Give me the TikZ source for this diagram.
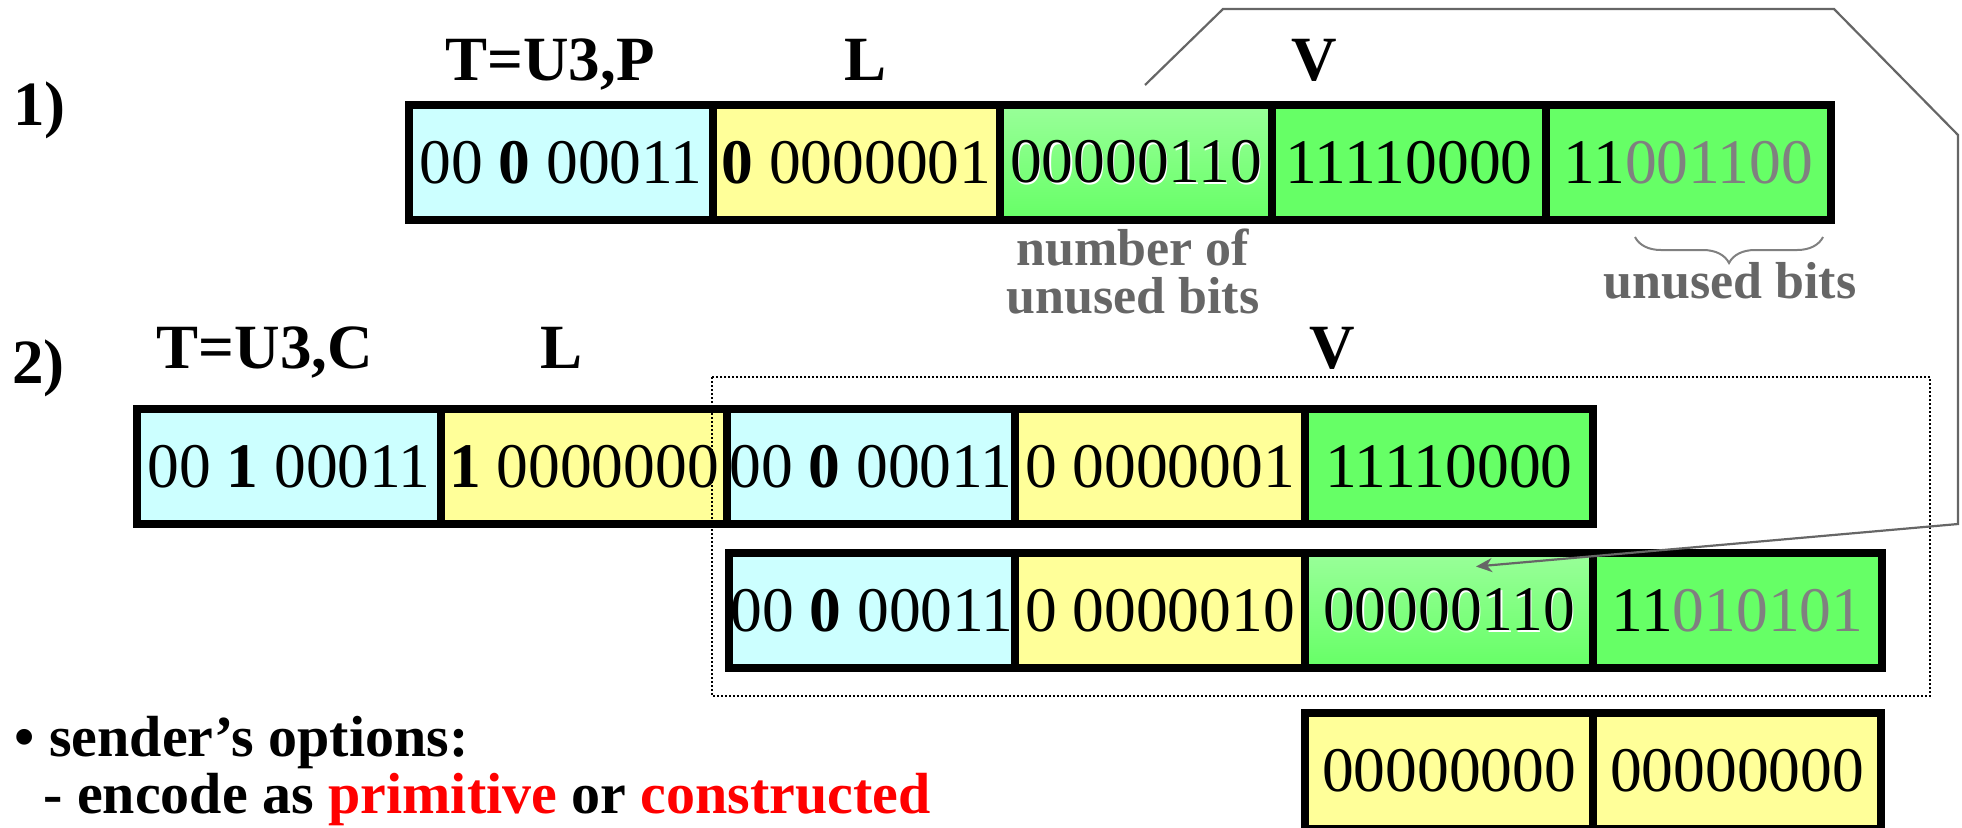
\documentclass[tikz,border=0pt]{standalone}
\usepackage{fontspec}
\setmainfont{Liberation Serif}
\usetikzlibrary{calc,arrows.meta,decorations.pathreplacing}
\definecolor{cyanF}{HTML}{CCFFFF}
\definecolor{yellowF}{HTML}{FFFF99}
\definecolor{greenF}{HTML}{66FF66}
\definecolor{lgreenF}{HTML}{99FF99}
\definecolor{dgray}{HTML}{808080}
\definecolor{lgray}{HTML}{666666}
\definecolor{redT}{HTML}{FF0000}
\tikzset{
  bitcell/.style={draw=black, line width=4pt, rectangle, inner sep=0pt,
    font=\fontsize{31.75}{36}\selectfont},
  lbl/.style={inner sep=0pt, anchor=base, font=\fontsize{31.5}{36}\selectfont\bfseries},
  glbl/.style={inner sep=0pt, text=lgray, align=center, font=\fontsize{26}{24}\selectfont\bfseries},
  btxt/.style={inner sep=0pt, anchor=base west, font=\fontsize{29}{28.5}\selectfont\bfseries},
  gline/.style={draw=lgray, line width=1.1pt, line join=miter},
  dotbox/.style={draw=black, line width=0.9pt, dash pattern=on 1pt off 1pt},
  gradcell/.style={top color=lgreenF, bottom color=greenF, middle color=greenF!50!lgreenF}
}
\newcommand\bitbox[7]{%
  \node[bitcell, #6, minimum width={(#3-#2)*0.5pt}, minimum height={(#5-#4)*0.5pt}]
    (#1) at ({(#2+#3)/2},{(#4+#5)/2}) {#7};}
\newcommand\glowtext[1]{\leavevmode\rlap{\kern0.6pt\raisebox{-1.1pt}{\textcolor{white}{#1}}}#1}
\begin{document}
\begin{tikzpicture}[x=0.5pt,y=-0.5pt]
\useasboundingbox (0,0) rectangle (1962,827);
% labels
\node[lbl, anchor=base west] (n1) at (13,125) {1)};
\node[lbl] (t1) at (550,80) {T=U3,P};
\node[lbl] (l1) at (865,80) {L};
\node[lbl] (v1) at (1314,80) {V};
\node[lbl, anchor=base west] (n2) at (12,383) {2)};
\node[lbl] (t2) at (265,368) {T=U3,C};
\node[lbl] (l2) at (561,368) {L};
\node[lbl] (v2) at (1332,368) {V};
% row 1
\bitbox{r1a}{409}{713}{105}{220}{fill=cyanF}{00 \textbf{0} 00011}
\bitbox{r1b}{713}{1000}{105}{220}{fill=yellowF}{\textbf{0} 0000001}
\bitbox{r1c}{1000}{1272}{105}{220}{gradcell}{\glowtext{00000110}}
\bitbox{r1d}{1272}{1546}{105}{220}{fill=greenF}{11110000}
\bitbox{r1e}{1546}{1831}{105}{220}{fill=greenF}{11\textcolor{dgray}{001100}}
% row 2 upper
\bitbox{r2a}{137}{441}{409}{524}{fill=cyanF}{00 \textbf{1} 00011}
\bitbox{r2b}{441}{727}{409}{524}{fill=yellowF}{\textbf{1} 0000000}
\bitbox{r2c}{727}{1015}{409}{524}{fill=cyanF}{00 \textbf{0} 00011}
\bitbox{r2d}{1015}{1305}{409}{524}{fill=yellowF}{0 0000001}
\bitbox{r2e}{1305}{1593}{409}{524}{fill=greenF}{11110000}
% row 2 lower
\bitbox{r2la}{729}{1015}{553}{668}{fill=cyanF}{00 \textbf{0} 00011}
\bitbox{r2lb}{1015}{1305}{553}{668}{fill=yellowF}{0 0000010}
\bitbox{r2lc}{1305}{1593}{553}{668}{gradcell}{\glowtext{00000110}}
\bitbox{r2ld}{1593}{1882}{553}{668}{fill=greenF}{11\textcolor{dgray}{010101}}
% row 3
\bitbox{r3a}{1305}{1593}{713}{829}{fill=yellowF}{00000000}
\bitbox{r3b}{1593}{1881}{713}{829}{fill=yellowF}{00000000}
% gray annotations
\node[glbl, anchor=base] (nub) at (1133,313) {number of\\unused bits};
\node[glbl, anchor=base] (ub) at (1730,298) {unused bits};
\draw[draw=dgray, line width=1pt, decorate, decoration={brace, mirror, amplitude=13pt}]
  (1635,237) -- (1823,237);
% dotted frame
\draw[dotbox] (712,377) rectangle (1930,696);
% connector
\draw[gline, -{Stealth[length=8pt, width=7pt, inset=2.5pt]}]
  ($(r1c.north)+(9,-16)$) -- (1223,9) -- (1834,9) -- (1958,135) -- (1958,524)
  -- ($(r2lc.center)+(27,-44)$);
% bottom text
\node[btxt] (s1) at (14,756) {• sender’s options:};
\node[btxt] (s2) at (43,813) {- encode as \textcolor{redT}{primitive} or \textcolor{redT}{constructed}};
\end{tikzpicture}
\end{document}
